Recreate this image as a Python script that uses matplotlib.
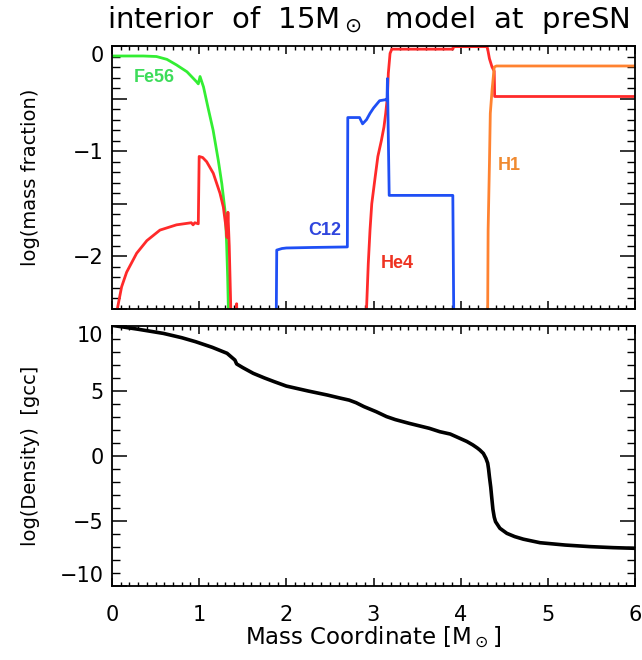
import matplotlib
matplotlib.use('Agg')
import matplotlib.pyplot as plt
from matplotlib.ticker import MultipleLocator, FuncFormatter

# log mass fraction profiles (mass coordinate in Msun)
fe56_m = [0.0, 0.2, 0.36, 0.51, 0.63, 0.74, 0.86, 0.97, 0.99, 1.01, 1.05, 1.10, 1.16,
          1.22, 1.26, 1.30, 1.315, 1.327, 1.335, 1.34, 1.5]
fe56_y = [-0.095, -0.095, -0.095, -0.10, -0.127, -0.18, -0.245, -0.34, -0.36, -0.29,
          -0.39, -0.58, -0.80, -1.09, -1.31, -1.59, -1.88, -2.20, -2.5, -3.0, -3.0]

he4_m = [0.04, 0.061, 0.11, 0.168, 0.283, 0.40, 0.55, 0.74, 0.91, 0.93, 0.95, 0.99, 1.0,
         1.04, 1.086, 1.162, 1.239, 1.277, 1.307, 1.32, 1.33, 1.345, 1.36, 1.375, 1.42,
         1.43, 1.44, 2.90, 2.92, 2.94, 2.96, 2.98, 3.02, 3.05, 3.09, 3.12, 3.14, 3.16, 3.17,
         3.19, 3.21, 3.91, 3.92, 4.30, 4.31, 4.33, 4.36, 4.385, 4.39, 4.40, 6.0]
he4_y = [-2.7, -2.5, -2.29, -2.15, -1.97, -1.85, -1.75, -1.70, -1.68, -1.70, -1.68,
         -1.69, -1.05, -1.06, -1.10, -1.21, -1.40, -1.53, -1.72, -1.82, -1.58, -1.90, -2.4,
         -3.0, -3.0, -2.45, -3.0, -3.0, -2.5, -2.07, -1.75, -1.5, -1.24, -1.05, -0.9,
         -0.77, -0.64, -0.48, -0.26, -0.07, -0.03, -0.03, -0.006, -0.006, -0.03, -0.12,
         -0.2, -0.24, -0.48, -0.48, -0.48]

c12_m = [1.8, 1.875, 1.885, 1.89, 1.95, 2.0, 2.3, 2.70, 2.705, 2.84, 2.875, 2.92, 2.96,
         3.0, 3.07, 3.14, 3.155, 3.16, 3.18, 3.91, 3.92, 3.93]
c12_y = [-3.0, -3.0, -2.5, -1.94, -1.925, -1.92, -1.915, -1.91, -0.68, -0.68, -0.74,
         -0.70, -0.64, -0.59, -0.52, -0.51, -0.52, -0.31, -1.42, -1.42, -2.5, -3.0]

h1_m = [4.30, 4.305, 4.31, 4.315, 4.33, 4.34, 4.36, 4.385, 4.41, 6.0]
h1_y = [-3.0, -3.0, -2.5, -1.75, -1.12, -0.64, -0.42, -0.20, -0.19, -0.19]

# log density profile
rho_m = [0.0, 0.3, 0.59, 0.8, 0.96, 1.15, 1.32, 1.41, 1.43, 1.5, 1.62, 1.75, 1.86, 2.0,
         2.25, 2.47, 2.62, 2.72, 2.8, 2.89, 3.03, 3.15, 3.25, 3.41, 3.64, 3.76, 3.88, 3.99,
         4.07, 4.14, 4.19, 4.22, 4.26, 4.29, 4.31, 4.32, 4.33, 4.345, 4.355, 4.37, 4.385,
         4.40, 4.45, 4.53, 4.62, 4.72, 4.91, 5.2, 5.48, 5.75, 6.0]
rho_y = [10.05, 9.75, 9.43, 9.1, 8.79, 8.36, 7.9, 7.38, 7.08, 6.8, 6.36, 6.0, 5.72,
         5.38, 5.0, 4.69, 4.45, 4.3, 4.1, 3.8, 3.41, 3.03, 2.8, 2.51, 2.13, 1.87, 1.69, 1.36,
         1.12, 0.85, 0.62, 0.46, 0.2, -0.18, -0.55, -1.0, -1.6, -2.4, -3.1, -4.1, -4.7,
         -5.05, -5.56, -5.95, -6.2, -6.4, -6.67, -6.85, -6.97, -7.05, -7.1]

labels = ['Fe56', 'C12', 'He4', 'H1']
label_pos = [(0.49, -0.30), (2.44, -1.75), (3.27, -2.07), (4.56, -1.14)]
label_colors = ['#3ddc5a', '#2f45dd', '#ee3322', '#f08a30']

plt.rcParams['font.family'] = ['DejaVu Sans']
plt.rcParams['mathtext.fontset'] = 'dejavusans'

fig = plt.figure(figsize=(6.42, 6.60), dpi=100)
ax1 = fig.add_axes([112/642, 1-309/660, 523/642, 263/660])
ax2 = fig.add_axes([112/642, 1-586/660, 523/642, 260/660])

lw = 2.0
ax1.plot(fe56_m, fe56_y, color='#33ee33', lw=lw)
ax1.plot(he4_m, he4_y, color='#ff2a2a', lw=lw)
ax1.plot(c12_m, c12_y, color='#1f4ff5', lw=lw)
ax1.plot(h1_m, h1_y, color='#ff8230', lw=lw)
for t, (x, y), c in zip(labels, label_pos, label_colors):
    ax1.text(x, y, t, color=c, fontsize=13, fontweight='bold',
             family='Liberation Sans', ha='center', va='center')

ax2.plot(rho_m, rho_y, color='black', lw=2.6)

ax1.set_xlim(0, 6)
ax1.set_ylim(-2.5, 0)
ax2.set_xlim(0, 6)
ax2.set_ylim(-10, 10)

def int_only(v, pos):
    if abs(v - round(v)) < 1e-6:
        return '%d' % round(v) if round(v) >= 0 else '\u2212%d' % abs(round(v))
    return ''

for ax in (ax1, ax2):
    ax.xaxis.set_major_locator(MultipleLocator(1))
    ax.xaxis.set_minor_locator(MultipleLocator(0.1))
    ax.tick_params(axis='x', which='major', direction='in', top=True, length=6, width=1.1)
    ax.tick_params(axis='x', which='minor', direction='in', top=True, length=3, width=1.0)
    ax.tick_params(axis='y', which='major', direction='in', right=True, length=11, width=1.1)
    ax.tick_params(axis='y', which='minor', direction='in', right=True, length=6, width=1.0)
    ax.tick_params(axis='y', labelsize=15, pad=6)
    ax.tick_params(axis='x', labelsize=15, pad=14)
    for s in ax.spines.values():
        s.set_linewidth(1.3)

ax1.yaxis.set_major_locator(MultipleLocator(0.5))
ax1.yaxis.set_minor_locator(MultipleLocator(0.1))
ax1.yaxis.set_major_formatter(FuncFormatter(int_only))
ax1.tick_params(axis='x', labelbottom=False)

ax2.yaxis.set_major_locator(MultipleLocator(5))
ax2.yaxis.set_minor_locator(MultipleLocator(1))
ax2.yaxis.set_major_formatter(FuncFormatter(int_only))

ax1.set_ylabel('log(mass fraction)', fontsize=14)
ax1.yaxis.set_label_coords(-0.138, 0.5)
ax2.set_ylabel('log(Density)  [gcc]', fontsize=14)
ax2.yaxis.set_label_coords(-0.138, 0.5)
ax2.set_xlabel(r'Mass Coordinate [M$_\odot$]', fontsize=16.5)
ax2.xaxis.set_label_coords(0.5, -0.15)

fig.text(368/642, 1-20/660, r'interior  of  15M$_\odot$  model  at  preSN', fontsize=21,
         ha='center', va='center')

# nudge edge labels inward like the original
fig.canvas.draw()
for ax in (ax1, ax2):
    ticks = ax.yaxis.get_major_ticks()
    locs = ax.yaxis.get_majorticklocs()
    lo, hi = ax.get_ylim()
    for tk, v in zip(ticks, locs):
        if abs(v - hi) < 1e-6:
            tk.label1.set_va('top')
        elif abs(v - lo) < 1e-6:
            tk.label1.set_va('bottom')

fig.savefig('out.png', dpi=100)
